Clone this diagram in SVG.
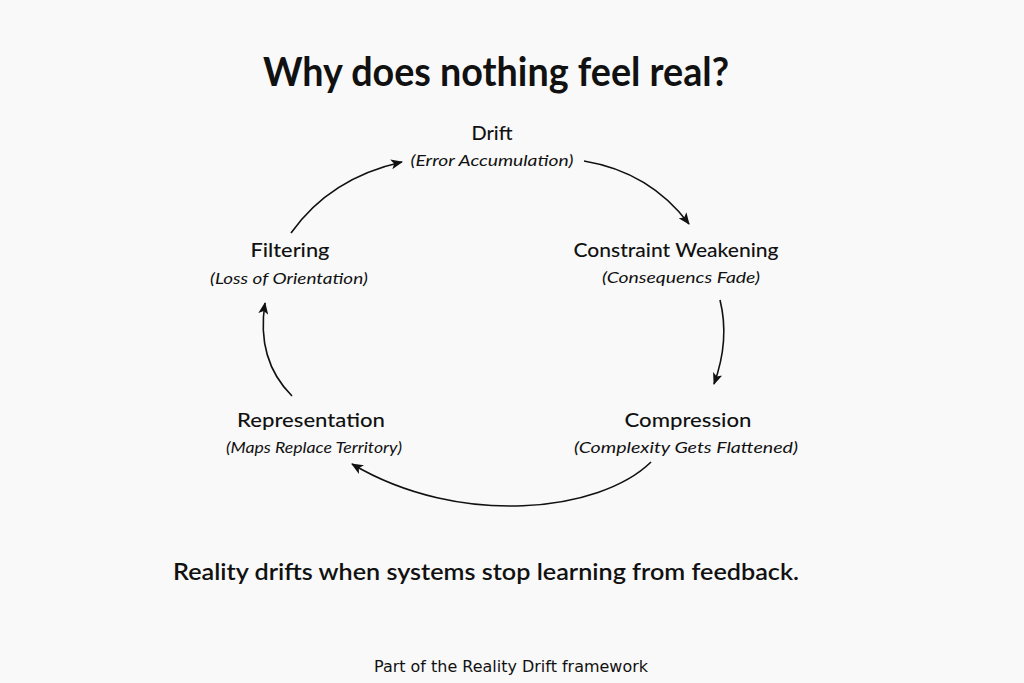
<svg xmlns="http://www.w3.org/2000/svg" width="1024" height="683" viewBox="0 0 1024 683">
<defs>
<marker id="ah" viewBox="0 0 12 10" refX="11" refY="5" markerWidth="12" markerHeight="10" markerUnits="userSpaceOnUse" orient="auto">
<path d="M0,0 L12,5 L0,10 L3,5 Z" fill="#111"/>
</marker>
<style>
.t{font-family:Lato,"Open Sans","Liberation Sans",sans-serif;fill:#111;text-anchor:middle}
.h{font-size:40px;font-weight:bold}
.n{font-size:20px;font-weight:500}
.s{font-size:16px;font-style:italic}
.g{font-size:23px;font-weight:600}
.f{font-family:"DejaVu Sans",sans-serif;font-size:15px;fill:#111;text-anchor:middle}
.c{fill:none;stroke:#111;stroke-width:1.6;marker-end:url(#ah)}
</style>
</defs>
<rect width="1024" height="683" fill="#f9f9f9"/>
<text class="t h" x="496" y="86" textLength="466" lengthAdjust="spacingAndGlyphs">Why does nothing feel real?</text>
<g id="drift">
<text class="t n" x="492" y="140">Drift</text>
<text class="t s" x="492" y="166" textLength="163" lengthAdjust="spacingAndGlyphs">(Error Accumulation)</text>
</g>
<g id="constraint">
<text class="t n" x="676" y="257" textLength="205" lengthAdjust="spacingAndGlyphs">Constraint Weakening</text>
<text class="t s" x="681" y="283" textLength="158" lengthAdjust="spacingAndGlyphs">(Consequencs Fade)</text>
</g>
<g id="compression">
<text class="t n" x="688" y="427" textLength="127" lengthAdjust="spacingAndGlyphs">Compression</text>
<text class="t s" x="686" y="453" textLength="224" lengthAdjust="spacingAndGlyphs">(Complexity Gets Flattened)</text>
</g>
<g id="representation">
<text class="t n" x="311" y="427" textLength="148" lengthAdjust="spacingAndGlyphs">Representation</text>
<text class="t s" x="314" y="453" textLength="176" lengthAdjust="spacingAndGlyphs">(Maps Replace Territory)</text>
</g>
<g id="filtering">
<text class="t n" x="290" y="257" textLength="79" lengthAdjust="spacingAndGlyphs">Filtering</text>
<text class="t s" x="289" y="284" textLength="158" lengthAdjust="spacingAndGlyphs">(Loss of Orientation)</text>
</g>
<g id="connectors">
<path class="c" d="M291,233 Q330,178 402,162"/>
<path class="c" d="M584,161 Q650,172 689,224"/>
<path class="c" d="M720,300 Q730,340 714,384"/>
<path class="c" d="M651,462 C600,512 460,528 352,464"/>
<path class="c" d="M292,396 Q256,360 265,303"/>
</g>
<text class="t g" x="486" y="580" textLength="626" lengthAdjust="spacingAndGlyphs">Reality drifts when systems stop learning from feedback.</text>
<text class="f" x="511" y="672" textLength="274" lengthAdjust="spacingAndGlyphs">Part of the Reality Drift framework</text>
</svg>
